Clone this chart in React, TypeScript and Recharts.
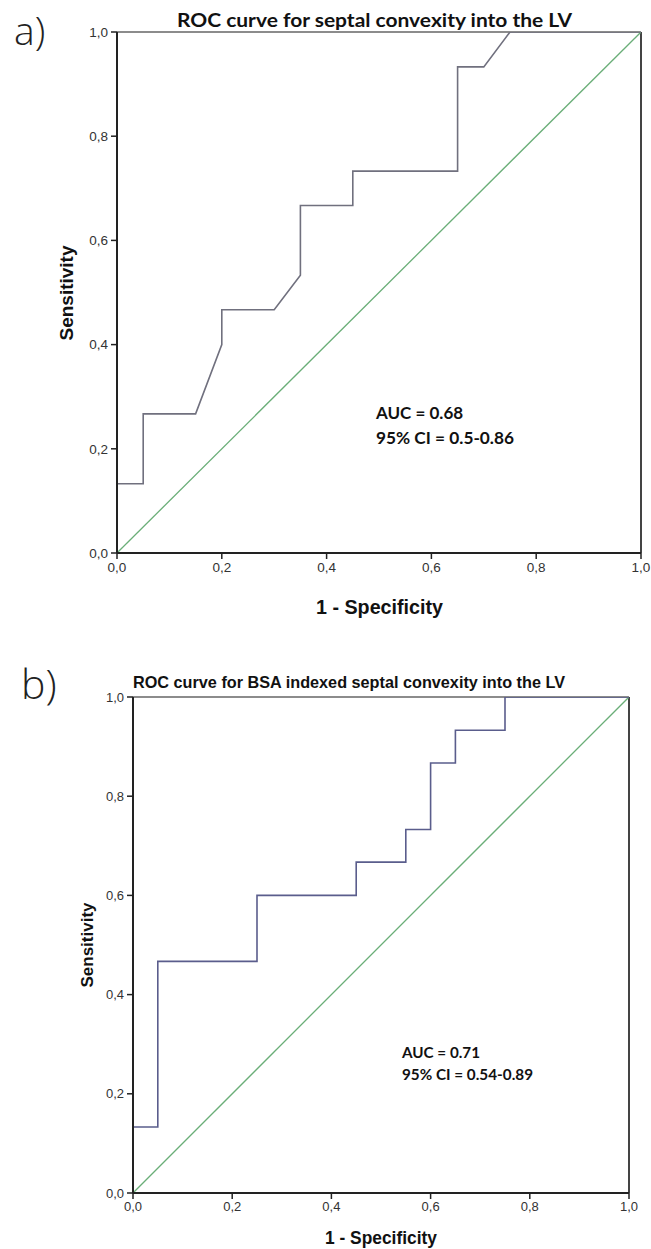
import React from 'react';
import { LineChart, Line, XAxis, YAxis, ReferenceLine } from 'recharts';

// Chart a) ROC curve for septal convexity into the LV
const fprA = [0, 0, 0.05, 0.05, 0.15, 0.2, 0.2, 0.3, 0.35, 0.35, 0.45, 0.45, 0.65, 0.65, 0.7, 0.75, 1];
const tprA = [0, 0.133, 0.133, 0.267, 0.267, 0.4, 0.467, 0.467, 0.533, 0.667, 0.667, 0.733, 0.733, 0.933, 0.933, 1, 1];

// Chart b) ROC curve for BSA indexed septal convexity into the LV
const fprB = [0, 0, 0.05, 0.05, 0.25, 0.25, 0.45, 0.45, 0.55, 0.55, 0.6, 0.6, 0.65, 0.65, 0.75, 0.75, 1];
const tprB = [0, 0.133, 0.133, 0.467, 0.467, 0.6, 0.6, 0.667, 0.667, 0.733, 0.733, 0.867, 0.867, 0.933, 0.933, 1, 1];

const refX = [0, 1];
const refY = [0, 1];

const tickValues = [0, 0.2, 0.4, 0.6, 0.8, 1];

const titleA = 'ROC curve for septal convexity into the LV';
const titleB = 'ROC curve for BSA indexed septal convexity into the LV';
const aucA = ['AUC = 0.68', '95% CI = 0.5-0.86'];
const aucB = ['AUC = 0.71', '95% CI = 0.54-0.89'];
const xTitle = '1 - Specificity';
const yTitle = 'Sensitivity';

const rocA = fprA.map((x, i) => ({ x, y: tprA[i] }));
const rocB = fprB.map((x, i) => ({ x, y: tprB[i] }));
const ref = refX.map((x, i) => ({ x, y: refY[i] }));

const fmt = (v: number) => v.toFixed(1).replace('.', ',');
const SANS = '"Liberation Sans", Arial, sans-serif';
const CAL = 'Lato, "Open Sans", sans-serif';
const THIN = '"Open Sans", "DejaVu Sans", sans-serif';

function Roc({ data, color, width, height, margin, yWidth, tickFont }: any) {
  return (
    <LineChart width={width} height={height} margin={margin}>
      <XAxis
        type="number"
        dataKey="x"
        domain={[0, 1]}
        ticks={tickValues}
        tickFormatter={fmt}
        height={30}
        axisLine={{ stroke: '#222', strokeWidth: 2 }}
        tickLine={{ stroke: '#222', strokeWidth: 1.5 }}
        tickSize={6}
        tickMargin={3}
        tick={{ fill: '#333', fontSize: tickFont, fontFamily: SANS }}
        allowDataOverflow
      />
      <YAxis
        type="number"
        dataKey="y"
        domain={[0, 1]}
        ticks={tickValues}
        tickFormatter={fmt}
        width={yWidth}
        axisLine={{ stroke: '#222', strokeWidth: 2 }}
        tickLine={{ stroke: '#222', strokeWidth: 1.5 }}
        tickSize={6}
        tickMargin={3}
        tick={{ fill: '#333', fontSize: tickFont, fontFamily: SANS }}
        allowDataOverflow
      />
      <ReferenceLine y={1} stroke="#666" strokeWidth={1.5} />
      <ReferenceLine x={1} stroke="#444" strokeWidth={2} />
      <Line data={ref} dataKey="y" type="linear" stroke="#6aae78" strokeWidth={1.3} dot={false} isAnimationActive={false} />
      <Line data={data} dataKey="y" type="linear" stroke={color} strokeWidth={1.6} dot={false} isAnimationActive={false} />
    </LineChart>
  );
}

export default function App() {
  return (
    <div style={{ position: 'absolute', left: 0, top: 0, width: 651, height: 1249, background: '#fff', overflow: 'hidden' }}>
      <div style={{ position: 'absolute', left: 0, top: 0 }}>
        <Roc data={rocA} color="#70707e" width={651} height={620}
          margin={{ top: 32, right: 10, left: 0, bottom: 37 }} yWidth={117} tickFont={13.5} />
      </div>
      <div style={{ position: 'absolute', left: 0, top: 640 }}>
        <Roc data={rocB} color="#5a5d8c" width={651} height={609}
          margin={{ top: 57, right: 22, left: 0, bottom: 26 }} yWidth={133} tickFont={13} />
      </div>
      <svg width={651} height={1249} style={{ position: 'absolute', left: 0, top: 0, pointerEvents: 'none' }}>
        {/* chart a texts */}
        <text x={14} y={29} dominantBaseline="central" fontSize={39} fontFamily={THIN} fontWeight={300} fill="#222">a)</text>
        <text x={177} y={19} dominantBaseline="central" fontSize={19} fontFamily={CAL} fontWeight={700} fill="#111" textLength={395} lengthAdjust="spacingAndGlyphs">{titleA}</text>
        <text x={66} y={293} dominantBaseline="central" textAnchor="middle" transform="rotate(-90 66 293)" fontSize={19} fontFamily={SANS} fontWeight={700} fill="#111">{yTitle}</text>
        <text x={316} y={607} dominantBaseline="central" fontSize={19.5} fontFamily={SANS} fontWeight={700} fill="#111" textLength={127} lengthAdjust="spacingAndGlyphs">{xTitle}</text>
        <text x={376} y={412} dominantBaseline="central" fontSize={17} fontFamily={CAL} fontWeight={700} fill="#111">{aucA[0]}</text>
        <text x={376} y={437} dominantBaseline="central" fontSize={17} fontFamily={CAL} fontWeight={700} fill="#111" textLength={138} lengthAdjust="spacingAndGlyphs">{aucA[1]}</text>

        {/* chart b texts */}
        <text x={21} y={683} dominantBaseline="central" fontSize={41} fontFamily={THIN} fontWeight={300} fill="#222">b)</text>
        <text x={133} y={682} dominantBaseline="central" fontSize={16.5} fontFamily={SANS} fontWeight={700} fill="#111" textLength={432} lengthAdjust="spacingAndGlyphs">{titleB}</text>
        <text x={87} y={945} dominantBaseline="central" textAnchor="middle" transform="rotate(-90 87 945)" fontSize={17} fontFamily={SANS} fontWeight={700} fill="#111">{yTitle}</text>
        <text x={325} y={1238} dominantBaseline="central" fontSize={17.5} fontFamily={SANS} fontWeight={700} fill="#111" textLength={112} lengthAdjust="spacingAndGlyphs">{xTitle}</text>
        <text x={402} y={1052} dominantBaseline="central" fontSize={15} fontFamily={CAL} fontWeight={700} fill="#111" textLength={78} lengthAdjust="spacingAndGlyphs">{aucB[0]}</text>
        <text x={402} y={1074} dominantBaseline="central" fontSize={15} fontFamily={CAL} fontWeight={700} fill="#111" textLength={131} lengthAdjust="spacingAndGlyphs">{aucB[1]}</text>
      </svg>
    </div>
  );
}
